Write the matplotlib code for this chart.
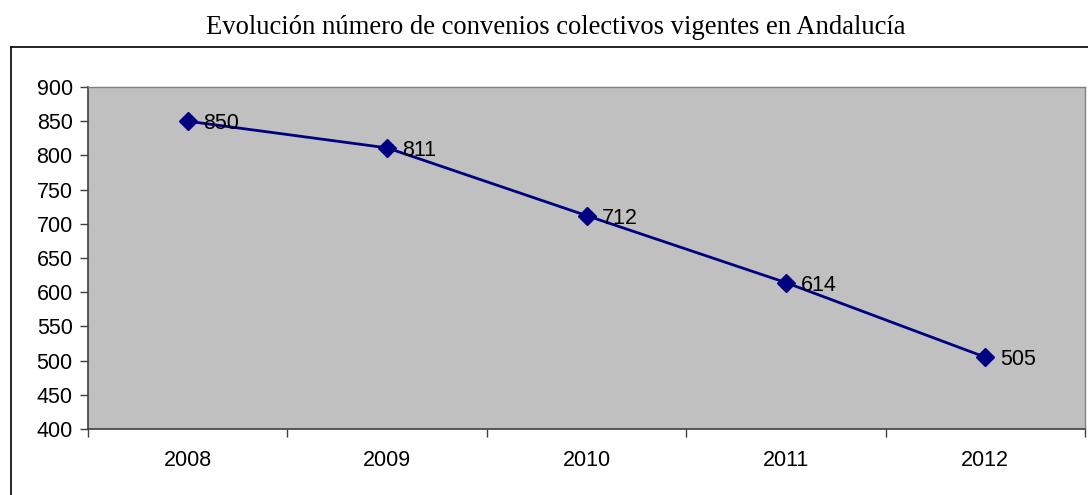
import matplotlib.pyplot as plt
from matplotlib.lines import Line2D

# Data
years = ['2008', '2009', '2010', '2011', '2012']
convenios = [850, 811, 712, 614, 505]
y_ticks = [400, 450, 500, 550, 600, 650, 700, 750, 800, 850, 900]

W, H = 1088, 495
fig = plt.figure(figsize=(W / 100, H / 100), dpi=100)

# outer chart frame (left and top edges visible)
fig.add_artist(Line2D([11 / W, 11 / W], [0, 1 - 47 / H], color='black', lw=1.2))
fig.add_artist(Line2D([11 / W, 1], [1 - 47 / H, 1 - 47 / H], color='black', lw=1.2))

fig.text(556 / W, 1 - 25 / H, 'Evolución número de convenios colectivos vigentes en Andalucía',
         ha='center', va='center_baseline', family='Liberation Serif', fontsize=19.2)

ax = fig.add_axes([88 / W, 1 - 429 / H, (1085 - 88) / W, (429 - 87) / H])
ax.set_facecolor('#C0C0C0')

lbl_size = 15.5
x = list(range(len(years)))
ax.plot(x, convenios, color='#000080', lw=2.0, marker='D', markersize=9.5,
        markerfacecolor='#000080', markeredgecolor='#000080')
for xi, v in zip(x, convenios):
    ax.annotate(str(v), (xi, v), xytext=(11, 0), textcoords='offset points',
                ha='left', va='center_baseline', family='Liberation Sans', fontsize=lbl_size)

ax.set_xlim(-0.5, len(years) - 0.5)
ax.set_ylim(400, 900)
ax.set_yticks(y_ticks)
ax.set_yticklabels([str(t) for t in y_ticks], family='Liberation Sans', fontsize=lbl_size)
ax.set_xticks(x)
ax.set_xticklabels(years, family='Liberation Sans', fontsize=lbl_size)
ax.set_xticks([i - 0.5 for i in range(len(years) + 1)], minor=True)
ax.tick_params(axis='x', which='major', length=0, pad=15)
ax.tick_params(axis='x', which='minor', length=6, width=1, color='#404040', direction='out')
ax.tick_params(axis='y', length=6, width=1, color='#404040', direction='out', pad=5)

for side in ['left', 'bottom']:
    ax.spines[side].set_color('#404040')
    ax.spines[side].set_linewidth(1.2)
for side in ['top', 'right']:
    ax.spines[side].set_color('#808080')
    ax.spines[side].set_linewidth(1.0)

fig.savefig('out.png', dpi=100)
